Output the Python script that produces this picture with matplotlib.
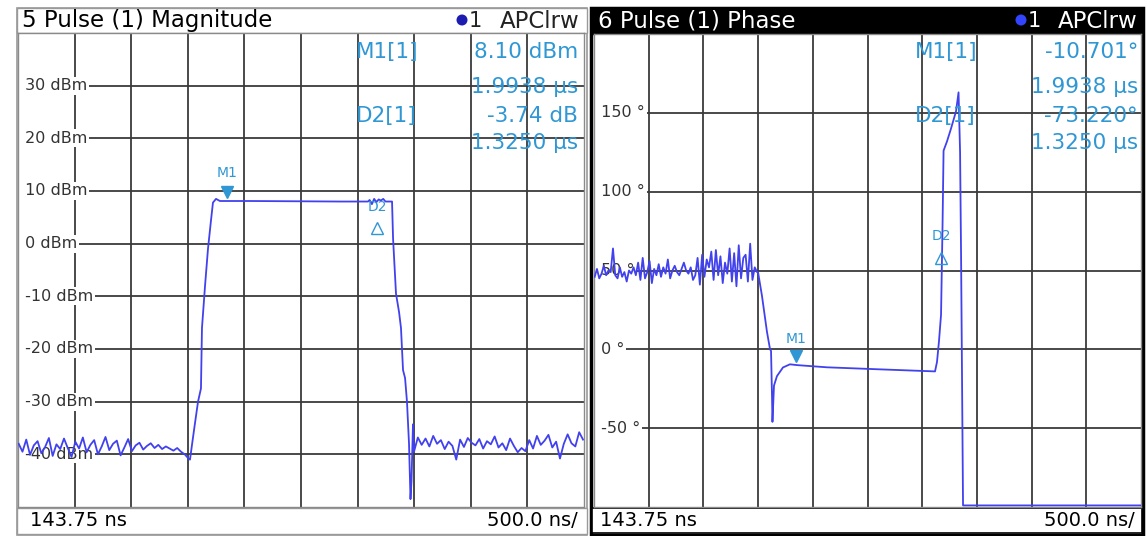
import matplotlib.pyplot as plt
import numpy as np
from matplotlib.patches import Rectangle, Ellipse

W, H = 1148, 536

# time axis (us)
t_start = 0.14375
t_div = 0.5

# magnitude trace (dBm)
mag_noise1_db = [-38.0, -39.5, -37.2, -40.1, -38.3, -37.5, -39.8, -38.6, -36.9, -40.3,
                 -38.1, -39.0, -37.0, -38.8, -40.5, -37.6, -38.9, -36.8, -39.6, -38.2,
                 -37.3, -40.0, -38.5, -36.7, -39.2, -38.0, -37.4, -40.2, -38.7, -37.1,
                 -39.4, -38.3, -37.8, -39.1, -38.4, -37.9, -38.8, -38.2, -39.0, -38.5,
                 -38.9, -39.3, -38.8, -39.5, -40.0, -40.8]
mag_pulse_t = [1.663, 1.698, 1.734, 1.760, 1.769, 1.796, 1.822, 1.849, 1.866, 1.893, 1.928,
               2.2, 2.6, 3.0, 3.236, 3.25, 3.27, 3.29, 3.31, 3.33, 3.35, 3.37, 3.39, 3.448,
               3.457, 3.483, 3.510, 3.527, 3.545, 3.563, 3.580, 3.598, 3.611, 3.620, 3.633]
mag_pulse_db = [-41.0, -35.5, -30.0, -27.5, -16.0, -8.0, -1.0, 4.5, 7.8, 8.5, 8.1,
                8.1, 8.05, 8.0, 8.0, 8.3, 7.5, 8.5, 7.9, 8.4, 8.2, 8.5, 8.0, 8.0,
                1.0, -9.5, -13.0, -16.0, -24.0, -25.5, -30.0, -38.0, -48.5, -45.0, -34.3]
mag_noise2_db = [-39.5, -36.8, -38.2, -37.0, -38.5, -36.5, -38.0, -37.3, -39.0, -37.6,
                 -38.4, -41.0, -37.2, -38.6, -36.9, -37.8, -38.3, -37.1, -38.9, -37.5,
                 -38.1, -36.6, -38.7, -37.9, -39.2, -37.0, -38.4, -39.6, -38.8, -39.4,
                 -37.3, -38.9, -36.5, -38.2, -37.4, -36.3, -38.7, -37.6, -40.8, -38.0,
                 -36.2, -37.9, -38.5, -35.8, -37.2]

# phase trace (deg)
ph_noise_deg = [46, 51, 45, 48, 53, 47, 50, 49, 64, 47, 45, 52, 46, 49, 43, 50,
                48, 52, 47, 55, 44, 58, 45, 49, 56, 42, 51, 47, 54, 46, 52, 48,
                57, 45, 50, 53, 49, 47, 51, 55, 50, 48, 52, 44, 47, 58, 41, 60,
                46, 57, 52, 62, 44, 63, 47, 59, 42, 55, 48, 64, 43, 61, 40, 66,
                45, 58, 60, 43, 67, 44, 52, 49]
ph_rest_t = [1.643, 1.679, 1.725, 1.753, 1.762, 1.771, 1.775, 1.789, 1.816, 1.871, 1.935,
             1.999, 2.273, 2.758, 3.261, 3.279, 3.297, 3.316, 3.330, 3.339, 3.371, 3.407,
             3.453, 3.476, 3.490, 3.499, 3.508, 3.517, 5.144]
ph_rest_deg = [49, 34, 11, 0, -1, -30, -46, -23, -17, -11.5, -9.5,
               -10.0, -11.4, -12.7, -14, -8, 5, 22, 80, 126, 132, 140,
               151, 163, 125, 60, -20, -99, -99]

mag_t = list(np.linspace(0.15, 1.65, len(mag_noise1_db))) + mag_pulse_t + \
    list(np.linspace(3.642, 5.135, len(mag_noise2_db)))
mag_db = mag_noise1_db + mag_pulse_db + mag_noise2_db
ph_t = list(np.linspace(0.15, 1.634, len(ph_noise_deg))) + ph_rest_t
ph_deg = ph_noise_deg + ph_rest_deg

m1_t = 1.9938
d2_t = m1_t + 1.325

trace_c = '#4141ee'
mk_c = '#2f97d3'
grid_c = '#3a3a3a'


def fbox(x0, y0, x1, y1):
    return [x0 / W, 1 - y1 / H, (x1 - x0) / W, (y1 - y0) / H]


def fx(x):
    return x / W


def fy(y):
    return 1 - y / H


def rect(x0, y0, x1, y1, **kw):
    fig.patches.append(Rectangle((fx(x0), fy(y1)), (x1 - x0) / W, (y1 - y0) / H,
                                 transform=fig.transFigure, zorder=-1, **kw))


fig = plt.figure(figsize=(W / 100, H / 100), dpi=100)
fig.patch.set_facecolor('white')

# panel frames
rect(17, 8, 587, 535, fc='white', ec='#9a9a9a', lw=1.2)
rect(591, 8, 1143, 535, fc='white', ec='black', lw=2.5)
# title bars
rect(17, 8, 587, 33, fc='white', ec='#9a9a9a', lw=1.0)
rect(591, 8, 1143, 34, fc='black', ec='black', lw=1.0)

fig.text(fx(22), fy(21), '5 Pulse (1) Magnitude', fontsize=16.5, va='center', color='black')
fig.text(fx(598), fy(21), '6 Pulse (1) Phase', fontsize=16.5, va='center', color='white')
for xd, xr, c, dc in [(462, 580, '#222222', '#1c1cb0'), (1021, 1138, 'white', '#3344ff')]:
    fig.patches.append(Ellipse((fx(xd), fy(20)), 11 / W, 11 / H, transform=fig.transFigure,
                               fc=dc, ec='none'))
    fig.text(fx(xd + 7), fy(21), '1', fontsize=15, va='center', ha='left', color=c)
    fig.text(fx(xr), fy(21), 'APClrw', fontsize=16.5, va='center', ha='right', color=c)

# footers
rect(17, 508, 587, 534, fc='white', ec='#9a9a9a', lw=1.0)
rect(592, 508, 1142, 533, fc='white', ec='black', lw=1.2)
for x0, x1 in [(30, 578), (600, 1135)]:
    fig.text(fx(x0), fy(521), '143.75 ns', fontsize=14, va='center', ha='left')
    fig.text(fx(x1), fy(521), '500.0 ns/', fontsize=14, va='center', ha='right')

xt = [t_start + k * t_div for k in range(1, 10)]


def setup(ax, ylim, yticks):
    ax.set_zorder(1)
    ax.set_xlim(t_start, t_start + 10 * t_div)
    ax.set_ylim(*ylim)
    ax.set_xticks(xt)
    ax.set_yticks(yticks)
    ax.grid(True, color=grid_c, lw=1.3)
    ax.tick_params(length=0, labelbottom=False, labelleft=False)
    for s in ax.spines.values():
        s.set_color('#8a8a8a')
        s.set_linewidth(1.0)


# magnitude
ax1 = fig.add_axes(fbox(18, 33, 584, 507))
setup(ax1, (-50, 40), list(range(-40, 40, 10)))
for v in range(30, -50, -10):
    ax1.text(0.004, v, f' {v} dBm', transform=ax1.get_yaxis_transform(), fontsize=11.5,
             va='center', ha='left', color='#333333', zorder=2.5,
             bbox=dict(fc='white', ec='none', pad=1.2))
ax1.plot(mag_t, mag_db, color=trace_c, lw=1.3, zorder=3)
ax1.plot(m1_t, 9.8, marker='v', ms=8, color=mk_c, zorder=4)
ax1.text(m1_t, 13.4, 'M1', color=mk_c, fontsize=10, ha='center', va='center', zorder=4)
ax1.plot(d2_t, 3.0, marker='^', ms=8, mfc='none', mec=mk_c, zorder=4)
ax1.text(d2_t, 7.0, 'D2', color=mk_c, fontsize=10, ha='center', va='center', zorder=4)

# phase
ax2 = fig.add_axes(fbox(594, 34, 1141, 507))
setup(ax2, (-100, 200), list(range(-50, 200, 50)))
for v in [150, 100, 50, 0, -50]:
    ax2.text(0.004, v, f' {v} °', transform=ax2.get_yaxis_transform(), fontsize=11.5,
             va='center', ha='left', color='#333333', zorder=2.5,
             bbox=dict(fc='white', ec='none', pad=1.2))
ax2.plot(ph_t, ph_deg, color=trace_c, lw=1.3, zorder=3)
ax2.plot(m1_t, -4.5, marker='v', ms=8, color=mk_c, zorder=4)
ax2.text(m1_t, 6.5, 'M1', color=mk_c, fontsize=10, ha='center', va='center', zorder=4)
ax2.plot(d2_t, 58, marker='^', ms=8, mfc='none', mec=mk_c, zorder=4)
ax2.text(d2_t, 72, 'D2', color=mk_c, fontsize=10, ha='center', va='center', zorder=4)

# marker tables
tables = [
    (356, 578, ['M1[1]', 'D2[1]'], ['8.10 dBm', '1.9938 µs', '-3.74 dB', '1.3250 µs']),
    (915, 1138, ['M1[1]', 'D2[1]'], ['-10.701°', '1.9938 µs', '-73.220°', '1.3250 µs']),
]
for xl, xr, names, vals in tables:
    fig.text(fx(xl), fy(52), names[0], fontsize=15.5, color=mk_c, va='center', ha='left',
             zorder=5)
    fig.text(fx(xl), fy(116), names[1], fontsize=15.5, color=mk_c, va='center', ha='left',
             zorder=5)
    for y, s in zip([52, 87, 116, 143], vals):
        fig.text(fx(xr), fy(y), s, fontsize=15.5, color=mk_c, va='center', ha='right',
                 zorder=5)

fig.savefig('out.png', dpi=100)
